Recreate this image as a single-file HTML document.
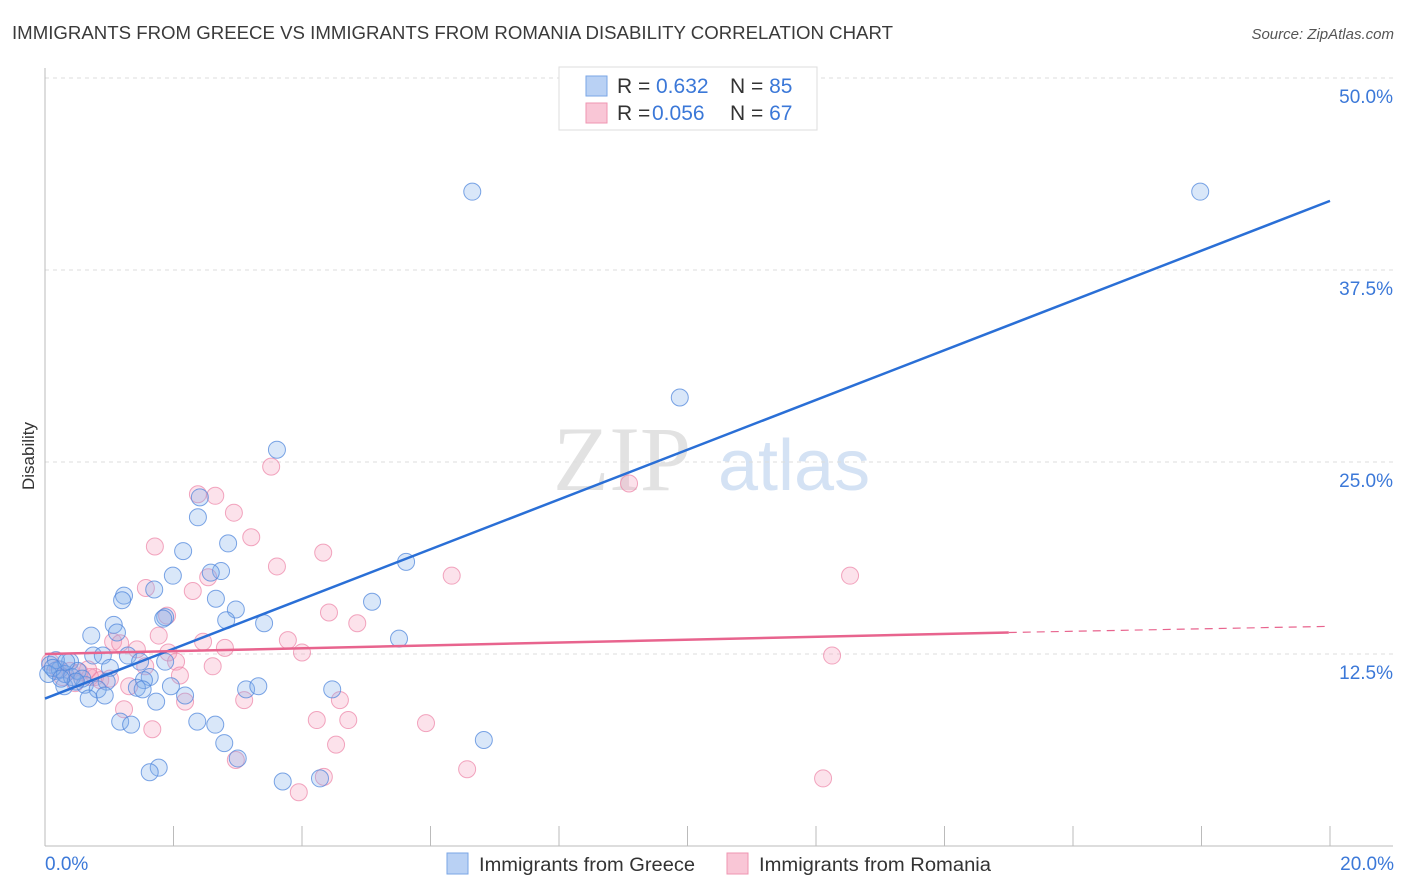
<!DOCTYPE html>
<html><head><meta charset="utf-8"><style>
body{margin:0;background:#fff;font-family:"Liberation Sans",sans-serif;}
svg{display:block}
</style></head><body>
<svg id="chart" width="1406" height="892">
<text x="12" y="39" font-size="18" fill="#3a3a3a" textLength="881" lengthAdjust="spacingAndGlyphs">IMMIGRANTS FROM GREECE VS IMMIGRANTS FROM ROMANIA DISABILITY CORRELATION CHART</text>
<text x="1394" y="39" font-size="15" fill="#555" font-style="italic" text-anchor="end">Source: ZipAtlas.com</text>
<text transform="translate(34,456) rotate(-90)" font-size="17" fill="#333" text-anchor="middle">Disability</text>
<g><text x="553" y="490" font-size="92" font-family="Liberation Serif,serif" fill="#e2e2e2">ZIP</text><text x="718" y="490" font-size="72" fill="#d4e2f4">atlas</text></g>
<g id="grid"></g><g id="pts"></g><g id="lines"></g>
<g>
<rect x="559" y="67" width="258" height="63" fill="#fff" stroke="#ddd"/>
<rect x="586" y="76" width="21" height="20" fill="#b9d1f4" stroke="#7aa6e6"/>
<rect x="586" y="103" width="21" height="20" fill="#f9c6d6" stroke="#ef95b2"/>
<text x="617" y="93" font-size="21" fill="#333">R = <tspan x="656" fill="#3b78d8">0.632</tspan><tspan x="730">N = </tspan><tspan fill="#3b78d8">85</tspan></text>
<text x="617" y="120" font-size="21" fill="#333">R = <tspan x="652" fill="#3b78d8">0.056</tspan><tspan x="730">N = </tspan><tspan fill="#3b78d8">67</tspan></text>
</g>
<g>
<rect x="447" y="853" width="21" height="21" fill="#b9d1f4" stroke="#7aa6e6"/>
<text x="479" y="871" font-size="19" fill="#333" textLength="216" lengthAdjust="spacingAndGlyphs">Immigrants from Greece</text>
<rect x="727" y="853" width="21" height="21" fill="#f9c6d6" stroke="#ef95b2"/>
<text x="759" y="871" font-size="19" fill="#333" textLength="232" lengthAdjust="spacingAndGlyphs">Immigrants from Romania</text>
</g>
</svg>
<script>
const yTicks=[12.5,25,37.5,50];
const xTickLabels=["0.0%","20.0%"];
const blueX=[6.65,17.98,9.88,3.61,2.41,2.38,2.15,2.85,5.62,2.74,2.58,1.99,1.70,1.23,1.20,2.66,5.09,2.97,1.87,1.84,2.82,3.41,1.07,1.12,0.72,5.51,0.75,1.29,0.90,0.39,1.48,1.87,1.01,1.63,1.54,0.96,0.62,0.30,1.43,1.96,3.13,3.32,4.47,0.82,1.52,2.18,0.93,0.68,1.73,2.37,2.65,1.17,1.34,6.83,2.79,3.00,1.77,1.63,3.70,4.28,0.08,0.16,0.23,0.31,0.42,0.51,0.58,0.17,0.05,0.48,0.33,0.12,0.25];
const blueY=[42.6,42.6,29.2,25.8,22.7,21.4,19.2,19.7,18.5,17.9,17.8,17.6,16.7,16.3,16.0,16.1,15.9,15.4,14.9,14.8,14.7,14.5,14.4,13.9,13.7,13.5,12.4,12.4,12.4,12.0,12.0,12.0,11.6,11.0,10.8,10.7,10.5,10.4,10.3,10.4,10.2,10.4,10.2,10.2,10.2,9.8,9.8,9.6,9.4,8.1,7.9,8.1,7.9,6.9,6.7,5.7,5.1,4.8,4.2,4.4,11.8,11.4,11.5,11.2,11.0,11.4,10.9,12.1,11.2,10.7,12.0,11.6,10.9];
const pinkX=[3.52,9.09,2.38,2.65,2.94,3.21,1.71,4.33,3.61,6.33,12.53,2.54,1.57,2.30,4.42,1.90,4.86,1.77,3.78,2.46,1.06,1.17,4.00,2.80,1.43,1.92,12.25,2.04,2.61,1.56,2.10,0.78,1.31,2.18,3.10,4.59,1.23,4.23,4.72,5.93,1.67,4.53,2.97,6.57,4.34,12.11,3.95,0.08,0.20,0.39,0.54,0.70,0.86,0.27,0.47,1.01,0.67];
const pinkY=[24.7,23.6,22.9,22.8,21.7,20.1,19.5,19.1,18.2,17.6,17.6,17.5,16.8,16.6,15.2,15.0,14.5,13.7,13.4,13.3,13.3,13.2,12.6,12.9,12.8,12.6,12.4,12.0,11.7,11.7,11.1,11.0,10.4,9.4,9.5,9.5,8.9,8.2,8.2,8.0,7.6,6.6,5.6,5.0,4.5,4.4,3.5,12.0,11.5,11.4,11.3,11.0,10.8,11.0,10.6,10.9,11.5];
const blueLine=[[0,9.6],[20,42.0]];
const pinkLine=[[0,12.5],[15,13.9],[20,14.3]];
const X=v=>45+v*64.25, Y=v=>846-v*15.36;
const NS="http://www.w3.org/2000/svg";
function mk(p,t,a){const e=document.createElementNS(NS,t);for(const k in a)e.setAttribute(k,a[k]);p.appendChild(e);return e;}
const g=document.getElementById('grid');
yTicks.forEach(t=>{
 const l=mk(g,'line',{x1:45,x2:1393,y1:Y(t),y2:Y(t),stroke:'#ddd','stroke-dasharray':'4,4'});
 
 
 const tx=mk(g,'text',{x:1393,y:Y(t)+25,'font-size':19,fill:'#3b78d8','text-anchor':'end'});tx.textContent=t.toFixed(1)+'%';
 
 
});
mk(g,'line',{x1:45,x2:45,y1:68,y2:846,stroke:'#bbb'});
mk(g,'line',{x1:45,x2:1393,y1:846,y2:846,stroke:'#bbb'});
for(let i=0;i<=10;i++){mk(g,'line',{x1:X(i*2),x2:X(i*2),y1:826,y2:846,stroke:'#bbb'});}
xTickLabels.forEach((s,i)=>{const t=mk(g,'text',{x:i?1394:45,y:870,'font-size':19,fill:'#3b78d8','text-anchor':i?'end':'start'});t.textContent=s;
 
 });
const p=document.getElementById('pts');
pinkX.forEach((x,i)=>{const c=mk(p,'circle',{cx:X(x),cy:Y(pinkY[i]),r:8.5,fill:'rgba(244,160,188,0.3)',stroke:'rgba(236,130,165,0.7)','stroke-width':1});
 
 });
blueX.forEach((x,i)=>{const c=mk(p,'circle',{cx:X(x),cy:Y(blueY[i]),r:8.5,fill:'rgba(130,175,235,0.3)',stroke:'rgba(80,135,220,0.75)','stroke-width':1});
 
 });
const L=document.getElementById('lines');
const b=mk(L,'line',{x1:X(blueLine[0][0]),y1:Y(blueLine[0][1]),x2:X(blueLine[1][0]),y2:Y(blueLine[1][1]),stroke:'#2a6fd6','stroke-width':2.5});


const r1=mk(L,'line',{x1:X(pinkLine[0][0]),y1:Y(pinkLine[0][1]),x2:X(pinkLine[1][0]),y2:Y(pinkLine[1][1]),stroke:'#e8648e','stroke-width':2.5});


const r2=mk(L,'line',{x1:X(pinkLine[1][0]),y1:Y(pinkLine[1][1]),x2:X(pinkLine[2][0]),y2:Y(pinkLine[2][1]),stroke:'#e8648e','stroke-width':1.2,'stroke-dasharray':'8,6'});


</script>
</body></html>
